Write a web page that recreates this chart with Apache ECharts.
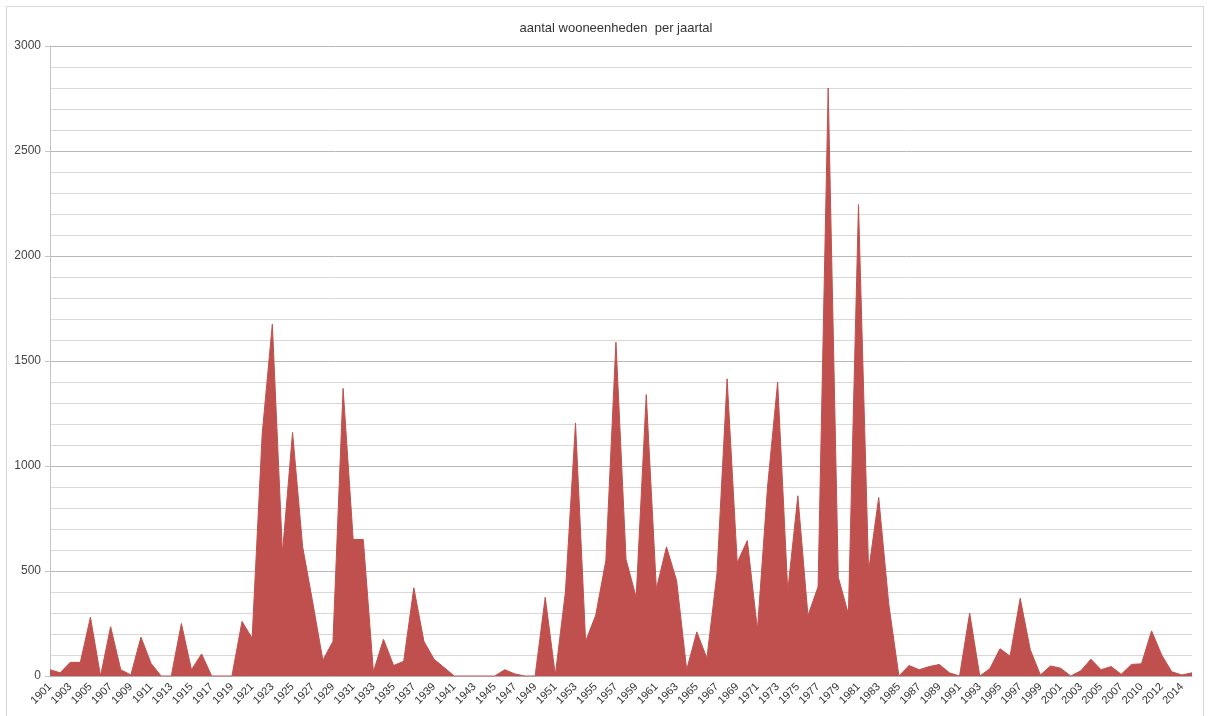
<!DOCTYPE html>
<html>
<head>
<meta charset="utf-8">
<title>aantal wooneenheden per jaartal</title>
<script src="https://cdn.jsdelivr.net/npm/echarts@6/dist/echarts.min.js"></script>
<style>
  html, body { margin: 0; padding: 0; background: #ffffff; }
  #chart { width: 1208px; height: 716px; }
</style>
</head>
<body>
<div id="chart"></div>
<script>
// Years with registered dwellings (2009 has no entry)
const years = [
  1901, 1902, 1903, 1904, 1905, 1906, 1907, 1908, 1909, 1910,
  1911, 1912, 1913, 1914, 1915, 1916, 1917, 1918, 1919, 1920,
  1921, 1922, 1923, 1924, 1925, 1926, 1927, 1928, 1929, 1930,
  1931, 1932, 1933, 1934, 1935, 1936, 1937, 1938, 1939, 1940,
  1941, 1942, 1943, 1944, 1945, 1946, 1947, 1948, 1949, 1950,
  1951, 1952, 1953, 1954, 1955, 1956, 1957, 1958, 1959, 1960,
  1961, 1962, 1963, 1964, 1965, 1966, 1967, 1968, 1969, 1970,
  1971, 1972, 1973, 1974, 1975, 1976, 1977, 1978, 1979, 1980,
  1981, 1982, 1983, 1984, 1985, 1986, 1987, 1988, 1989, 1990,
  1991, 1992, 1993, 1994, 1995, 1996, 1997, 1998, 1999, 2000,
  2001, 2002, 2003, 2004, 2005, 2006, 2007, 2008, 2010, 2011,
  2012, 2013, 2014, 2015
];

// Number of dwelling units per year
const units = [
  30, 15, 65, 65, 280, 0, 235, 30, 5, 185,
  60, 0, 0, 250, 30, 105, 0, 0, 0, 260,
  180, 1155, 1675, 585, 1160, 615, 350, 75, 165, 1370,
  650, 650, 20, 175, 50, 70, 420, 165, 80, 40,
  0, 0, 0, 0, 0, 30, 10, 0, 0, 375,
  5, 400, 1205, 165, 290, 550, 1590, 555, 375, 1340,
  415, 615, 455, 30, 210, 85, 490, 1415, 540, 645,
  220, 900, 1400, 405, 858, 288, 425, 2800, 470, 295,
  2245, 500, 850, 340, 0, 50, 30, 45, 55, 15,
  0, 300, 0, 35, 130, 95, 370, 125, 5, 48,
  37, 0, 25, 80, 30, 45, 8, 55, 58, 215,
  100, 20, 5, 15
];

const yTicks = { min: 0, max: 3000, interval: 500 };

const FONT = 'Liberation Sans, Arial, sans-serif';
const chart = echarts.init(document.getElementById('chart'), null, { renderer: 'canvas' });

chart.setOption({
  animation: false,
  backgroundColor: '#ffffff',
  textStyle: { fontFamily: FONT },
  graphic: [{
    type: 'rect',
    silent: true,
    shape: { x: 6.5, y: 6.5, width: 1197, height: 730 },
    style: { fill: 'none', stroke: '#d6d6d6', lineWidth: 1 }
  }],
  title: {
    text: 'aantal wooneenheden  per jaartal',
    left: 611,
    top: 17,
    textAlign: 'center',
    textStyle: { fontSize: 13, fontWeight: 'normal', color: '#333333', fontFamily: FONT }
  },
  grid: { left: 50, right: 16, top: 46, bottom: 40, containLabel: false },
  xAxis: {
    type: 'category',
    data: years.map(String),
    boundaryGap: false,
    axisLine: { show: true, lineStyle: { color: '#b0b0b0', width: 1 } },
    axisTick: { show: false },
    splitLine: { show: false },
    axisLabel: {
      interval: 1,
      rotate: 45,
      margin: 9,
      fontSize: 11,
      color: '#333333',
      fontFamily: FONT
    }
  },
  yAxis: {
    type: 'value',
    min: yTicks.min,
    max: yTicks.max,
    interval: yTicks.interval,
    axisLine: { show: true, lineStyle: { color: '#c4c4c4', width: 1 } },
    axisTick: { show: true, length: 5, lineStyle: { color: '#c4c4c4' } },
    axisLabel: {
      margin: 9,
      fontSize: 12,
      color: '#444444',
      fontFamily: FONT,
      formatter: (v) => String(v)
    },
    splitLine: { show: true, lineStyle: { color: '#b8b8b8', width: 1 } },
    minorTick: { show: false, splitNumber: 5 },
    minorSplitLine: { show: true, lineStyle: { color: '#d8d8d8', width: 1 } }
  },
  series: [{
    name: 'wooneenheden',
    type: 'line',
    data: units,
    symbol: 'none',
    smooth: false,
    lineStyle: { color: '#c0504d', width: 1 },
    itemStyle: { color: '#c0504d' },
    areaStyle: { color: '#c0504d', opacity: 1 }
  }]
});
</script>
</body>
</html>
